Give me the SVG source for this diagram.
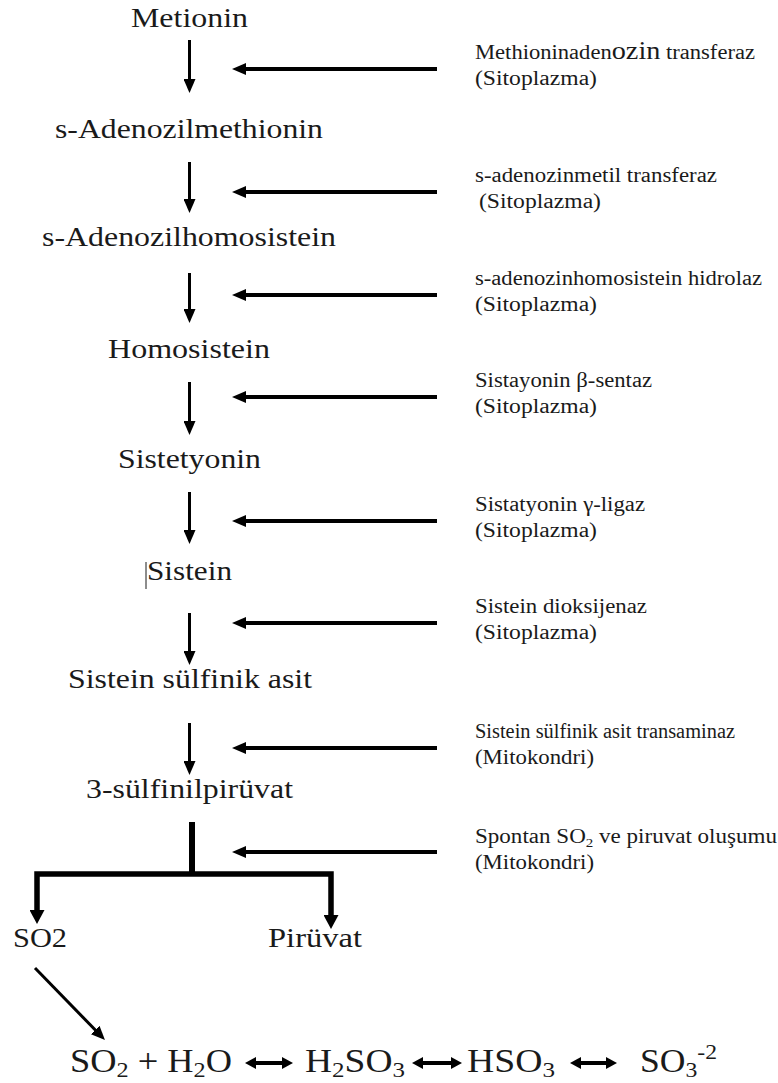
<svg xmlns="http://www.w3.org/2000/svg" width="778" height="1083" viewBox="0 0 778 1083">
<style>
text { font-family: "Liberation Serif", "DejaVu Serif", "Times New Roman", serif; fill: #1a1a1a; }
.node { font-size: 28px; text-anchor: middle; }
.nodeL { font-size: 28px; }
.lbl { font-size: 20px; }
.eq { font-size: 33px; }
.conn line, .conn path { stroke: #000; fill: none; }
.v { stroke-width: 3; marker-end: url(#ah); }
.h { stroke-width: 4; marker-end: url(#ah); }
.br { stroke-width: 5.5; stroke-linejoin: miter; marker-start: url(#ahb); marker-end: url(#ahb); }
.dbl { stroke-width: 4; marker-start: url(#ahs); marker-end: url(#ahs); }
</style>
<defs>
<marker id="ah" viewBox="0 0 14 12" refX="4" refY="6" markerWidth="14" markerHeight="12" markerUnits="userSpaceOnUse" orient="auto-start-reverse"><path d="M0,0 L14,6 L0,12 z" fill="#000"/></marker>
<marker id="ahb" viewBox="0 0 14 15" refX="4" refY="7.5" markerWidth="14" markerHeight="15" markerUnits="userSpaceOnUse" orient="auto-start-reverse"><path d="M0,0 L14,7.5 L0,15 z" fill="#000"/></marker>
<marker id="ahs" viewBox="0 0 11 12" refX="3" refY="6" markerWidth="11" markerHeight="12" markerUnits="userSpaceOnUse" orient="auto-start-reverse"><path d="M0,0 L11,6 L0,12 z" fill="#000"/></marker>
</defs>
<rect width="778" height="1083" fill="#fff"/>

<g id="n-metionin"><text class="node" x="189.5" y="27" textLength="117" lengthAdjust="spacingAndGlyphs">Metionin</text></g>
<g id="n-sam"><text class="node" x="189" y="138" textLength="268" lengthAdjust="spacingAndGlyphs">s-Adenozilmethionin</text></g>
<g id="n-sah"><text class="node" x="189" y="246" textLength="294" lengthAdjust="spacingAndGlyphs">s-Adenozilhomosistein</text></g>
<g id="n-homosistein"><text class="node" x="189" y="358" textLength="162" lengthAdjust="spacingAndGlyphs">Homosistein</text></g>
<g id="n-sistetyonin"><text class="node" x="189.5" y="468" textLength="143" lengthAdjust="spacingAndGlyphs">Sistetyonin</text></g>
<g id="n-sistein"><line x1="146" y1="562" x2="146" y2="589" stroke="#1a1a1a" stroke-width="1"/><text class="node" x="189.5" y="580" textLength="85" lengthAdjust="spacingAndGlyphs">Sistein</text></g>
<g id="n-ssa"><text class="node" x="190" y="688" textLength="244" lengthAdjust="spacingAndGlyphs">Sistein sülfinik asit</text></g>
<g id="n-3sp"><text class="node" x="189.5" y="798" textLength="207" lengthAdjust="spacingAndGlyphs">3-sülfinilpirüvat</text></g>
<g id="n-so2"><text class="nodeL" x="13" y="947" textLength="54" lengthAdjust="spacingAndGlyphs">SO2</text></g>
<g id="n-piruvat"><text class="nodeL" x="268" y="947" textLength="94" lengthAdjust="spacingAndGlyphs">Pirüvat</text></g>

<g id="l-1">
<text class="lbl" x="475" y="59" textLength="280" lengthAdjust="spacingAndGlyphs">Methioninaden<tspan font-size="25">ozin</tspan> transferaz</text>
<text class="lbl" x="475" y="85" textLength="122" lengthAdjust="spacingAndGlyphs">(Sitoplazma)</text>
</g>
<g id="l-2">
<text class="lbl" x="475" y="182" textLength="242" lengthAdjust="spacingAndGlyphs">s-adenozinmetil transferaz</text>
<text class="lbl" x="479" y="208" textLength="122" lengthAdjust="spacingAndGlyphs">(Sitoplazma)</text>
</g>
<g id="l-3">
<text class="lbl" x="475" y="285" textLength="287" lengthAdjust="spacingAndGlyphs">s-adenozinhomosistein hidrolaz</text>
<text class="lbl" x="475" y="311" textLength="122" lengthAdjust="spacingAndGlyphs">(Sitoplazma)</text>
</g>
<g id="l-4">
<text class="lbl" x="475" y="387" textLength="177" lengthAdjust="spacingAndGlyphs">Sistayonin β-sentaz</text>
<text class="lbl" x="475" y="413" textLength="122" lengthAdjust="spacingAndGlyphs">(Sitoplazma)</text>
</g>
<g id="l-5">
<text class="lbl" x="475" y="511" textLength="170" lengthAdjust="spacingAndGlyphs">Sistatyonin γ-ligaz</text>
<text class="lbl" x="475" y="537" textLength="122" lengthAdjust="spacingAndGlyphs">(Sitoplazma)</text>
</g>
<g id="l-6">
<text class="lbl" x="475" y="613" textLength="172" lengthAdjust="spacingAndGlyphs">Sistein dioksijenaz</text>
<text class="lbl" x="475" y="639" textLength="122" lengthAdjust="spacingAndGlyphs">(Sitoplazma)</text>
</g>
<g id="l-7">
<text class="lbl" x="475" y="738" textLength="260" lengthAdjust="spacingAndGlyphs">Sistein sülfinik asit transaminaz</text>
<text class="lbl" x="475" y="764" textLength="119" lengthAdjust="spacingAndGlyphs">(Mitokondri)</text>
</g>
<g id="l-8">
<text class="lbl" x="475" y="843" textLength="302" lengthAdjust="spacingAndGlyphs">Spontan SO<tspan font-size="13" dy="4">2</tspan><tspan dy="-4"> ve piruvat oluşumu</tspan></text>
<text class="lbl" x="475" y="869" textLength="119" lengthAdjust="spacingAndGlyphs">(Mitokondri)</text>
</g>

<g id="eq-1"><text class="eq" x="70" y="1072" textLength="162" lengthAdjust="spacingAndGlyphs">SO<tspan font-size="22" dy="5">2</tspan><tspan dy="-5"> + H</tspan><tspan font-size="22" dy="5">2</tspan><tspan dy="-5">O</tspan></text></g>
<g id="eq-2"><text class="eq" x="305" y="1072" textLength="100" lengthAdjust="spacingAndGlyphs">H<tspan font-size="22" dy="5">2</tspan><tspan dy="-5">SO</tspan><tspan font-size="22" dy="5">3</tspan></text></g>
<g id="eq-3"><text class="eq" x="467" y="1072" textLength="88" lengthAdjust="spacingAndGlyphs">HSO<tspan font-size="22" dy="5">3</tspan></text></g>
<g id="eq-4"><text class="eq" x="640" y="1072" textLength="77" lengthAdjust="spacingAndGlyphs">SO<tspan font-size="22" dy="5">3</tspan><tspan font-size="22" dy="-18">-2</tspan></text></g>

<g id="connectors" class="conn">
<line class="v" x1="189.5" y1="40" x2="189.5" y2="83"/>
<line class="v" x1="189.5" y1="162" x2="189.5" y2="203"/>
<line class="v" x1="189.5" y1="273" x2="189.5" y2="313"/>
<line class="v" x1="189.5" y1="382" x2="189.5" y2="425"/>
<line class="v" x1="189.5" y1="492" x2="189.5" y2="534"/>
<line class="v" x1="189.5" y1="613" x2="189.5" y2="655"/>
<line class="v" x1="189.5" y1="723" x2="189.5" y2="765"/>

<line class="h" x1="437" y1="69" x2="242" y2="69"/>
<line class="h" x1="437" y1="192" x2="242" y2="192"/>
<line class="h" x1="437" y1="295" x2="242" y2="295"/>
<line class="h" x1="437" y1="397" x2="242" y2="397"/>
<line class="h" x1="437" y1="521" x2="242" y2="521"/>
<line class="h" x1="437" y1="623" x2="242" y2="623"/>
<line class="h" x1="437" y1="748" x2="242" y2="748"/>
<line class="h" x1="437" y1="852" x2="242" y2="852"/>

<line x1="192" y1="822" x2="192" y2="874" stroke-width="6"/>
<path class="br" d="M37,914 V874 H331 V919"/>

<line class="v" x1="35" y1="968" x2="98" y2="1032.8"/>

<line class="dbl" x1="253" y1="1063" x2="285" y2="1063"/>
<line class="dbl" x1="420" y1="1063" x2="454" y2="1063"/>
<line class="dbl" x1="578" y1="1063" x2="609" y2="1063"/>
</g>
</svg>
